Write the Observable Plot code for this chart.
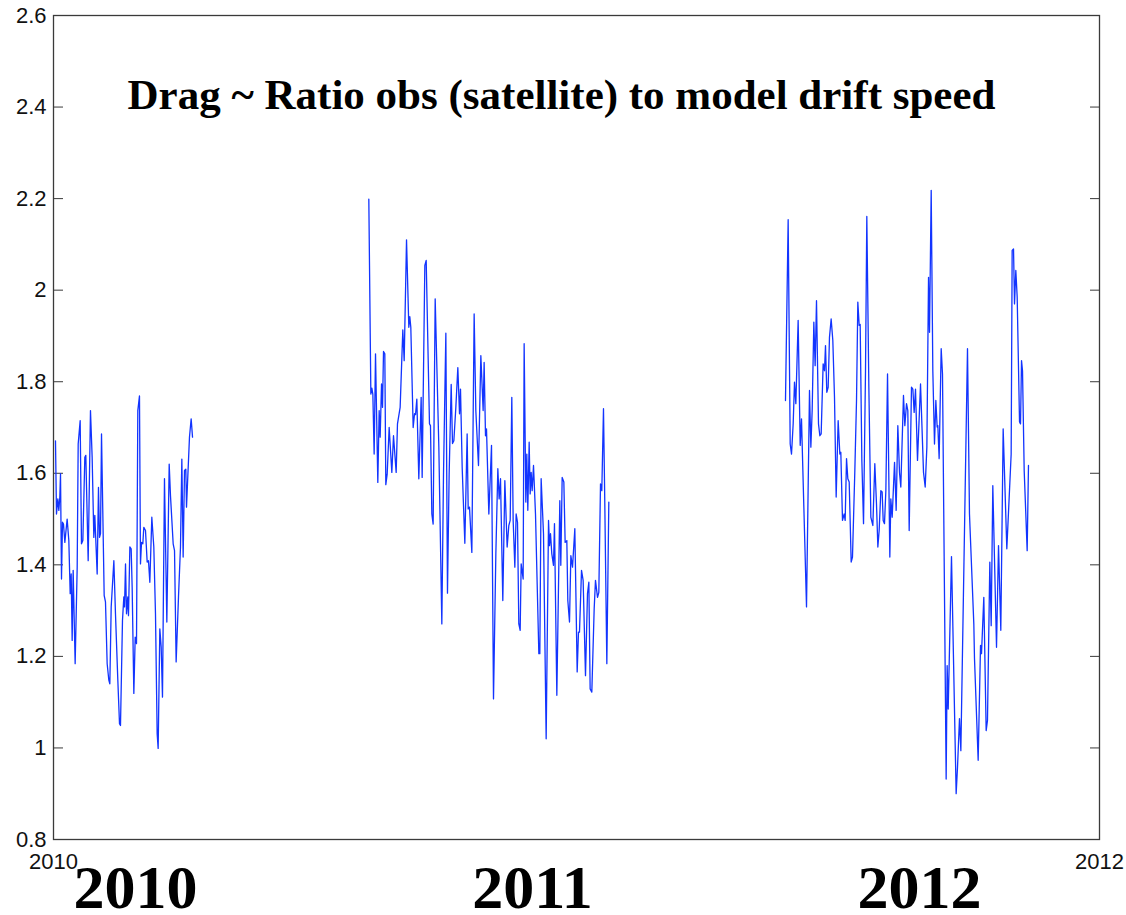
<!DOCTYPE html>
<html>
<head>
<meta charset="utf-8">
<script src="https://cdn.jsdelivr.net/npm/d3@7"></script>
<script src="https://cdn.jsdelivr.net/npm/@observablehq/plot@0.6"></script>
<style>
  html, body { margin: 0; padding: 0; background: #fff; }
</style>
</head>
<body>
<div id="chart"></div>
<script>
// Axis ticks and their printed labels
const xTickValues = [2010, 2012];
const xTickLabels = ["2010", "2012"];
const yTickValues = [0.8, 1, 1.2, 1.4, 1.6, 1.8, 2, 2.2, 2.4, 2.6];
const yTickLabels = ["0.8", "1", "1.2", "1.4", "1.6", "1.8", "2", "2.2", "2.4", "2.6"];

// Large season captions under the axis, anchored at a time position
const seasonNames = ["2010", "2011", "2012"];
const seasonLabelAt = [2010.157, 2010.916, 2011.656];

const chartTitle = "Drag ~ Ratio obs (satellite) to model drift speed";

// Ratio of observed (satellite) to modelled drift speed: [decimal year, ratio]
const drift2010 = [
  [2010.0038, 1.671], [2010.0057, 1.511], [2010.0083, 1.544], [2010.0102, 1.519],
  [2010.0121, 1.548], [2010.0134, 1.599], [2010.0153, 1.369], [2010.0172, 1.493],
  [2010.0191, 1.489], [2010.0217, 1.449], [2010.0261, 1.500], [2010.0293, 1.453],
  [2010.0319, 1.337], [2010.0338, 1.380], [2010.0357, 1.235], [2010.0376, 1.388],
  [2010.0414, 1.184], [2010.0453, 1.395], [2010.0472, 1.664], [2010.0510, 1.715],
  [2010.0535, 1.446], [2010.0561, 1.453], [2010.0599, 1.635], [2010.0618, 1.639],
  [2010.0663, 1.409], [2010.0707, 1.737], [2010.0739, 1.635], [2010.0771, 1.460],
  [2010.0790, 1.508], [2010.0835, 1.380], [2010.0860, 1.569], [2010.0880, 1.460],
  [2010.0899, 1.468], [2010.0918, 1.686], [2010.0969, 1.333], [2010.0994, 1.319],
  [2010.1026, 1.184], [2010.1058, 1.148], [2010.1077, 1.140], [2010.1103, 1.308],
  [2010.1154, 1.409], [2010.1185, 1.293], [2010.1230, 1.148], [2010.1262, 1.053],
  [2010.1281, 1.049], [2010.1319, 1.279], [2010.1345, 1.330], [2010.1358, 1.308],
  [2010.1377, 1.402], [2010.1396, 1.293], [2010.1421, 1.330], [2010.1434, 1.289],
  [2010.1460, 1.439], [2010.1485, 1.435], [2010.1504, 1.351], [2010.1536, 1.119],
  [2010.1562, 1.242], [2010.1587, 1.228], [2010.1612, 1.737], [2010.1644, 1.769],
  [2010.1663, 1.402], [2010.1683, 1.449], [2010.1708, 1.446], [2010.1727, 1.482],
  [2010.1759, 1.475], [2010.1791, 1.406], [2010.1816, 1.409], [2010.1842, 1.362],
  [2010.1880, 1.504], [2010.1918, 1.439], [2010.1950, 1.293], [2010.1982, 1.031],
  [2010.2001, 0.999], [2010.2033, 1.260], [2010.2059, 1.220], [2010.2084, 1.111],
  [2010.2122, 1.588], [2010.2167, 1.275], [2010.2212, 1.620], [2010.2237, 1.551],
  [2010.2288, 1.446], [2010.2314, 1.431], [2010.2345, 1.188], [2010.2390, 1.330],
  [2010.2428, 1.439], [2010.2454, 1.631], [2010.2479, 1.417], [2010.2505, 1.606],
  [2010.2530, 1.609], [2010.2543, 1.526], [2010.2600, 1.679], [2010.2632, 1.719],
  [2010.2658, 1.679]
];

const drift2011 = [
  [2010.6029, 2.199], [2010.6068, 1.773], [2010.6087, 1.786], [2010.6106, 1.773],
  [2010.6131, 1.642], [2010.6157, 1.861], [2010.6201, 1.580], [2010.6227, 1.737],
  [2010.6246, 1.679], [2010.6272, 1.795], [2010.6291, 1.744], [2010.6310, 1.866],
  [2010.6335, 1.861], [2010.6354, 1.575], [2010.6380, 1.598], [2010.6418, 1.700],
  [2010.6469, 1.602], [2010.6501, 1.682], [2010.6552, 1.602], [2010.6577, 1.708],
  [2010.6628, 1.744], [2010.6679, 1.913], [2010.6705, 1.846], [2010.6750, 2.110],
  [2010.6794, 1.919], [2010.6813, 1.942], [2010.6832, 1.919], [2010.6877, 1.700],
  [2010.6903, 1.730], [2010.6922, 1.728], [2010.6947, 1.762], [2010.6985, 1.588],
  [2010.7030, 1.766], [2010.7049, 1.591], [2010.7100, 2.054], [2010.7126, 2.065],
  [2010.7189, 1.708], [2010.7208, 1.704], [2010.7234, 1.511], [2010.7259, 1.489],
  [2010.7298, 1.981], [2010.7368, 1.657], [2010.7425, 1.271], [2010.7457, 1.598],
  [2010.7502, 1.906], [2010.7533, 1.338], [2010.7565, 1.598], [2010.7604, 1.794],
  [2010.7629, 1.665], [2010.7655, 1.671], [2010.7693, 1.744], [2010.7731, 1.831],
  [2010.7763, 1.730], [2010.7782, 1.784], [2010.7814, 1.613], [2010.7865, 1.447],
  [2010.7909, 1.686], [2010.7929, 1.522], [2010.7954, 1.526], [2010.7999, 1.427],
  [2010.8043, 1.948], [2010.8075, 1.737], [2010.8126, 1.617], [2010.8171, 1.857],
  [2010.8215, 1.737], [2010.8234, 1.842], [2010.8260, 1.682], [2010.8279, 1.697],
  [2010.8324, 1.511], [2010.8375, 1.661], [2010.8413, 1.107], [2010.8458, 1.424],
  [2010.8496, 1.610], [2010.8521, 1.544], [2010.8547, 1.588], [2010.8591, 1.322],
  [2010.8630, 1.584], [2010.8674, 1.439], [2010.8706, 1.486], [2010.8732, 1.497],
  [2010.8763, 1.766], [2010.8789, 1.497], [2010.8821, 1.395], [2010.8846, 1.511],
  [2010.8872, 1.493], [2010.8897, 1.271], [2010.8923, 1.257], [2010.8942, 1.402],
  [2010.8980, 1.369], [2010.8999, 1.883], [2010.9031, 1.537], [2010.9050, 1.642],
  [2010.9069, 1.519], [2010.9095, 1.668], [2010.9114, 1.555], [2010.9133, 1.602],
  [2010.9152, 1.562], [2010.9178, 1.617], [2010.9216, 1.511], [2010.9248, 1.358],
  [2010.9280, 1.206], [2010.9299, 1.206], [2010.9324, 1.588], [2010.9369, 1.468],
  [2010.9420, 1.020], [2010.9465, 1.497], [2010.9484, 1.442], [2010.9503, 1.468],
  [2010.9528, 1.424], [2010.9560, 1.399], [2010.9579, 1.490], [2010.9624, 1.115],
  [2010.9681, 1.540], [2010.9700, 1.399], [2010.9726, 1.591], [2010.9758, 1.581],
  [2010.9783, 1.449], [2010.9815, 1.453], [2010.9834, 1.322], [2010.9866, 1.275],
  [2010.9892, 1.420], [2010.9924, 1.395], [2010.9968, 1.479], [2011.0013, 1.166],
  [2011.0038, 1.253], [2011.0057, 1.253], [2011.0096, 1.388], [2011.0127, 1.366],
  [2011.0172, 1.158], [2011.0210, 1.337], [2011.0236, 1.362], [2011.0261, 1.129],
  [2011.0293, 1.122], [2011.0338, 1.304], [2011.0363, 1.366], [2011.0402, 1.329],
  [2011.0427, 1.340], [2011.0459, 1.577], [2011.0484, 1.562], [2011.0516, 1.741],
  [2011.0542, 1.526], [2011.0580, 1.184], [2011.0618, 1.537]
];

const drift2012 = [
  [2011.3996, 1.759], [2011.4047, 2.154], [2011.4086, 1.664], [2011.4111, 1.642],
  [2011.4143, 1.708], [2011.4168, 1.799], [2011.4194, 1.752], [2011.4238, 1.934],
  [2011.4277, 1.661], [2011.4302, 1.719], [2011.4347, 1.526], [2011.4398, 1.308],
  [2011.4455, 1.781], [2011.4481, 1.657], [2011.4506, 1.737], [2011.4538, 1.930],
  [2011.4563, 1.835], [2011.4589, 1.977], [2011.4627, 1.708], [2011.4653, 1.682],
  [2011.4678, 1.686], [2011.4716, 1.839], [2011.4742, 1.824], [2011.4761, 1.879],
  [2011.4786, 1.777], [2011.4812, 1.788], [2011.4837, 1.897], [2011.4869, 1.937],
  [2011.4901, 1.890], [2011.4933, 1.766], [2011.4965, 1.548], [2011.5003, 1.715],
  [2011.5035, 1.642], [2011.5054, 1.646], [2011.5086, 1.497], [2011.5118, 1.511],
  [2011.5137, 1.497], [2011.5163, 1.632], [2011.5188, 1.588], [2011.5214, 1.581],
  [2011.5252, 1.406], [2011.5277, 1.417], [2011.5322, 1.606], [2011.5354, 1.759],
  [2011.5379, 1.974], [2011.5405, 1.923], [2011.5424, 1.925], [2011.5456, 1.628],
  [2011.5488, 1.490], [2011.5526, 1.824], [2011.5551, 2.161], [2011.5590, 1.788],
  [2011.5628, 1.504], [2011.5666, 1.486], [2011.5704, 1.621], [2011.5736, 1.533],
  [2011.5762, 1.439], [2011.5787, 1.475], [2011.5819, 1.562], [2011.5844, 1.559],
  [2011.5864, 1.497], [2011.5889, 1.490], [2011.5915, 1.562], [2011.5947, 1.817],
  [2011.5991, 1.417], [2011.6010, 1.544], [2011.6036, 1.504], [2011.6081, 1.624],
  [2011.6112, 1.519], [2011.6144, 1.704], [2011.6176, 1.602], [2011.6201, 1.570],
  [2011.6252, 1.770], [2011.6278, 1.704], [2011.6310, 1.752], [2011.6335, 1.737],
  [2011.6361, 1.475], [2011.6405, 1.788], [2011.6431, 1.784], [2011.6456, 1.733],
  [2011.6482, 1.784], [2011.6520, 1.628], [2011.6578, 1.795], [2011.6635, 1.602],
  [2011.6667, 1.570], [2011.6699, 1.657], [2011.6731, 2.028], [2011.6750, 1.908],
  [2011.6782, 2.218], [2011.6813, 1.824], [2011.6845, 1.664], [2011.6871, 1.759],
  [2011.6896, 1.701], [2011.6909, 1.704], [2011.6934, 1.632], [2011.6973, 1.872],
  [2011.6998, 1.817], [2011.7068, 0.932], [2011.7087, 1.180], [2011.7107, 1.085],
  [2011.7170, 1.418], [2011.7259, 0.900], [2011.7285, 0.958], [2011.7323, 1.064],
  [2011.7349, 0.994], [2011.7476, 1.872], [2011.7514, 1.511], [2011.7597, 1.271],
  [2011.7610, 1.195], [2011.7680, 0.973], [2011.7725, 1.224], [2011.7744, 1.206],
  [2011.7788, 1.329], [2011.7833, 1.038], [2011.7858, 1.060], [2011.7903, 1.406],
  [2011.7929, 1.267], [2011.7960, 1.573], [2011.8031, 1.220], [2011.8069, 1.442],
  [2011.8113, 1.257], [2011.8158, 1.697], [2011.8228, 1.435], [2011.8311, 1.642],
  [2011.8330, 2.087], [2011.8356, 2.090], [2011.8375, 1.970], [2011.8400, 2.043],
  [2011.8426, 1.985], [2011.8471, 1.712], [2011.8490, 1.708], [2011.8509, 1.846],
  [2011.8528, 1.824], [2011.8560, 1.606], [2011.8617, 1.431], [2011.8642, 1.617]
];

// One record per sample, tagged by season so each season draws as its own line
const seasons = [["2010", drift2010], ["2011", drift2011], ["2012", drift2012]];
const rows = seasons.flatMap(([season, pts]) => pts.map(([t, r]) => ({season, t, r})));

const sansFont = "'Liberation Sans', Arial, Helvetica, sans-serif";
const serifFont = "'Liberation Serif', 'Times New Roman', Times, serif";
const axisColor = "#3a3a3a";

const chart = Plot.plot({
  width: 1126,
  height: 915,
  marginLeft: 53,
  marginRight: 27,
  marginTop: 15,
  marginBottom: 76,
  style: {fontFamily: sansFont, fontSize: "22px", color: "#111", background: "#fff"},
  x: {domain: [2010, 2012]},
  y: {domain: [0.8, 2.6]},
  marks: [
    Plot.frame({stroke: axisColor, strokeWidth: 1.3}),
    // left axis: inward ticks with labels
    Plot.axisY({
      anchor: "left", ticks: yTickValues, label: null,
      tickFormat: d => yTickLabels[yTickValues.indexOf(d)],
      tickSize: -10, tickPadding: 17, stroke: axisColor
    }),
    // right axis: inward ticks only
    Plot.axisY({
      anchor: "right", ticks: yTickValues, label: null,
      tickFormat: () => "", tickSize: -10, tickPadding: 0, stroke: axisColor
    }),
    Plot.axisX({
      ticks: xTickValues, label: null,
      tickFormat: d => xTickLabels[xTickValues.indexOf(d)],
      tickSize: 0, tickPadding: 14
    }),
    Plot.line(rows, {x: "t", y: "r", z: "season", stroke: "#1234ff", strokeWidth: 1.3}),
    Plot.text([chartTitle], {
      frameAnchor: "top", dx: -15, dy: 93, lineAnchor: "bottom",
      fontFamily: serifFont, fontWeight: "bold", fontSize: 43, fill: "#000"
    }),
    Plot.text(seasonNames, {
      x: (d, i) => seasonLabelAt[i], frameAnchor: "bottom", dy: 68, lineAnchor: "bottom",
      fontFamily: serifFont, fontWeight: "bold", fontSize: 62, fill: "#000"
    })
  ]
});

document.getElementById("chart").appendChild(chart);
</script>
</body>
</html>
